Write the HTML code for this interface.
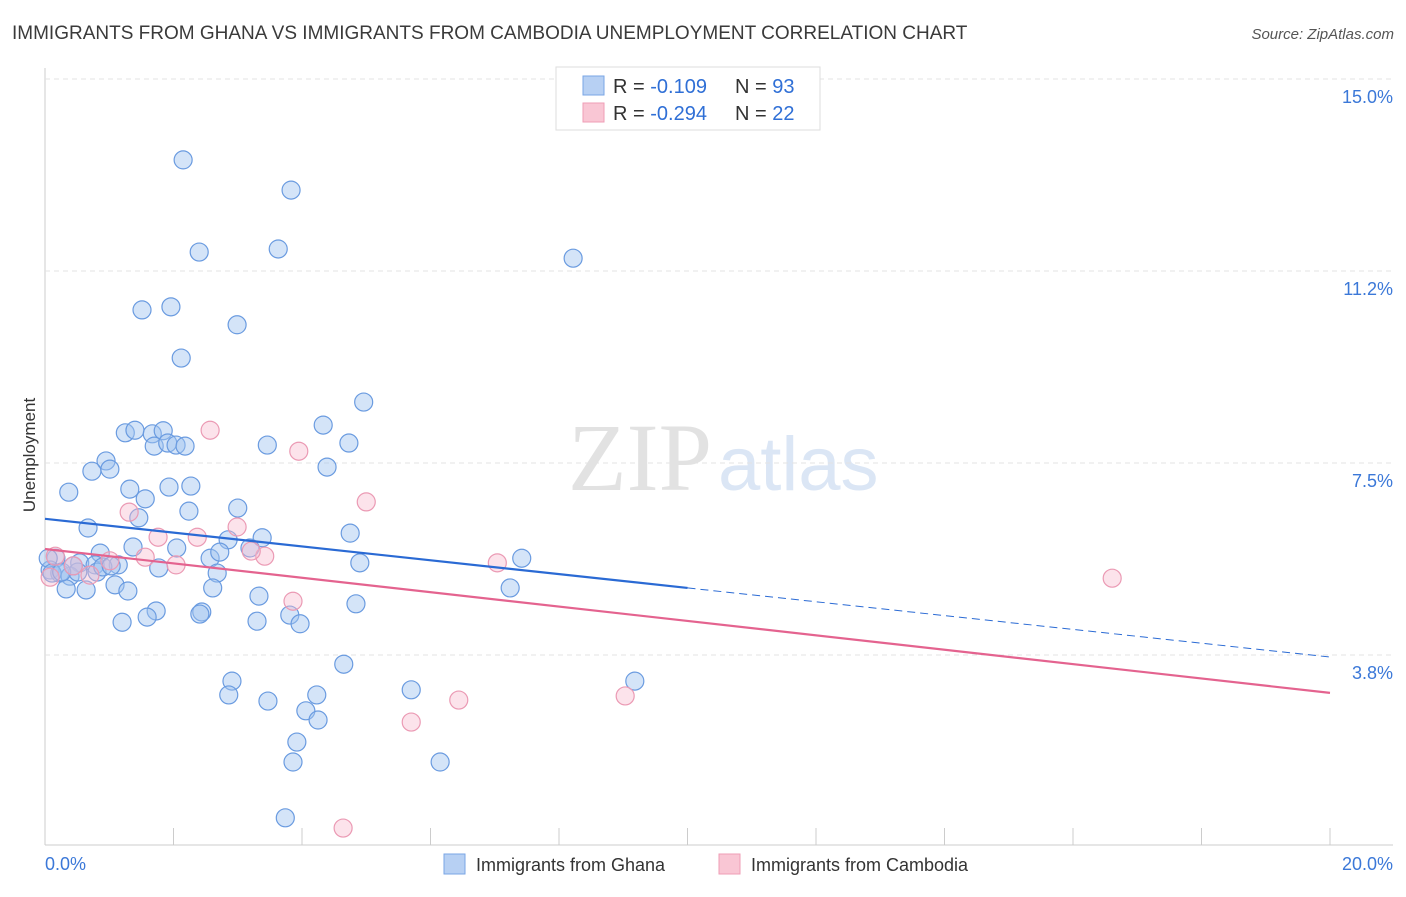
<!DOCTYPE html>
<html><head><meta charset="utf-8"><style>
body{margin:0;background:#fff;font-family:"Liberation Sans",sans-serif}
</style></head><body>
<svg width="1406" height="892" id="c" style="font-family:'Liberation Sans',sans-serif">
<text x="12" y="39" font-size="19" fill="#3a3a3a">IMMIGRANTS FROM GHANA VS IMMIGRANTS FROM CAMBODIA UNEMPLOYMENT CORRELATION CHART</text>
<text x="1394" y="39" font-size="15" fill="#555" text-anchor="end" font-style="italic">Source: ZipAtlas.com</text>
<text x="712" y="490" font-size="96" fill="#e2e2e2" text-anchor="end" font-family="'Liberation Serif',serif">ZIP</text>
<text x="718" y="490" font-size="76" fill="#dbe6f5">atlas</text>
<text x="35" y="455" font-size="17" fill="#333" text-anchor="middle" transform="rotate(-90 35 455)">Unemployment</text>
<g id="grid"></g><g id="pts"></g><g id="trend"></g>
<g>
<rect x="556" y="67" width="264" height="63" fill="#fff" stroke="#ddd"/>
<rect x="583" y="76" width="21" height="19" fill="#b7d0f3" stroke="#7aa6e6"/>
<rect x="583" y="103" width="21" height="19" fill="#f9c6d4" stroke="#ef9db6"/>
<text x="613" y="93" font-size="20" fill="#333">R = <tspan fill="#2f6fd6">-0.109</tspan><tspan x="735">N = </tspan><tspan fill="#2f6fd6">93</tspan></text>
<text x="613" y="120" font-size="20" fill="#333">R = <tspan fill="#2f6fd6">-0.294</tspan><tspan x="735">N = </tspan><tspan fill="#2f6fd6">22</tspan></text>
</g>
<g>
<rect x="444" y="854" width="21" height="20" fill="#b7d0f3" stroke="#7aa6e6"/>
<text x="476" y="871" font-size="18" fill="#333">Immigrants from Ghana</text>
<rect x="719" y="854" width="21" height="20" fill="#f9c6d4" stroke="#ef9db6"/>
<text x="751" y="871" font-size="18" fill="#333">Immigrants from Cambodia</text>
</g>
</svg>
<script>
const yTicks=[3.75,7.5,11.25,15];
const yTickLabels=["3.8%","7.5%","11.2%","15.0%"];
const xTicks=[0,2,4,6,8,10,12,14,16,18,20];
const ghanaX=[2.15,3.83,2.40,3.63,8.22,1.51,1.96,2.99,2.12,4.96,4.33,1.25,1.40,1.67,1.84,1.70,1.91,2.04,2.18,3.46,4.73,4.39,0.95,1.01,0.73,0.37,1.32,1.56,1.93,2.27,2.24,3.00,1.46,0.67,4.75,2.85,3.38,1.37,2.05,0.17,0.86,2.57,2.72,3.19,4.90,7.42,0.54,0.78,1.14,1.77,2.68,0.08,0.23,0.39,0.51,0.81,0.33,0.64,1.09,1.29,2.61,3.33,7.24,1.73,1.59,1.20,2.44,2.41,3.30,3.81,3.97,4.84,4.65,2.91,2.86,3.47,4.23,5.70,9.18,4.06,4.25,3.92,3.86,6.15,3.74,0.05,0.11,0.26,0.44,0.90,1.03];
const ghanaY=[13.42,12.83,11.62,11.68,11.50,10.49,10.55,10.20,9.55,8.69,8.24,8.09,8.14,8.07,8.13,7.83,7.89,7.85,7.83,7.85,7.89,7.42,7.54,7.38,7.34,6.93,6.99,6.80,7.03,7.05,6.56,6.62,6.43,6.23,6.13,6.00,6.04,5.86,5.84,5.64,5.74,5.64,5.76,5.84,5.55,5.64,5.55,5.51,5.51,5.45,5.35,5.41,5.35,5.29,5.37,5.37,5.04,5.02,5.12,5.00,5.06,4.90,5.06,4.61,4.49,4.39,4.59,4.55,4.41,4.53,4.36,4.75,3.57,3.24,2.97,2.85,2.97,3.07,3.24,2.66,2.48,2.05,1.66,1.66,0.57,5.64,5.35,5.37,5.49,5.47,5.49];
const cambX=[2.57,3.95,5.00,1.31,2.99,1.76,2.37,3.42,1.56,2.04,1.01,0.44,0.70,0.08,0.16,3.21,3.86,7.04,16.61,5.70,6.44,9.03,4.64];
const cambY=[8.14,7.73,6.74,6.54,6.25,6.05,6.05,5.68,5.66,5.51,5.59,5.49,5.31,5.27,5.68,5.78,4.80,5.55,5.25,2.44,2.87,2.95,0.37];
const ghanaTrend=[6.41,3.71];
const cambTrend=[5.82,3.01];
const ghanaSolidEnd=10;
const X=v=>45+v*64.25, Y=v=>847-v*51.2;
const NS="http://www.w3.org/2000/svg";
function mk(t,a,p){const e=document.createElementNS(NS,t);for(const k in a)e.setAttribute(k,a[k]);p.appendChild(e);return e;}
const g=document.getElementById('grid');
let e=mk('line',{x1:45,y1:68,x2:45,y2:845,stroke:'#ccc'},g);


e=mk('line',{x1:45,y1:845,x2:1393,y2:845,stroke:'#ccc'},g);


yTicks.forEach((t,i)=>{
 let l=mk('line',{x1:45,y1:Y(t),x2:1393,y2:Y(t),stroke:'#e3e3e3','stroke-dasharray':'5,4'},g);
 
 
 let tx=mk('text',{x:1393,y:Y(t)+24,'font-size':18,fill:'#3b78d8','text-anchor':'end'},g);tx.textContent=yTickLabels[i];
 
 
});
xTicks.forEach(t=>{
 let l=mk('line',{x1:X(t),y1:828,x2:X(t),y2:845,stroke:'#ccc'},g);
 
 
});
let t0=mk('text',{x:45,y:870,'font-size':18,fill:'#3b78d8'},g);t0.textContent='0.0%';


let t1=mk('text',{x:1393,y:870,'font-size':18,fill:'#3b78d8','text-anchor':'end'},g);t1.textContent='20.0%';


const p=document.getElementById('pts');
ghanaX.forEach((x,i)=>{
 let c=mk('circle',{cx:X(x),cy:Y(ghanaY[i]),r:9,fill:'rgba(160,195,240,0.45)',stroke:'#6a9be0','stroke-width':1.2},p);
 
 
});
cambX.forEach((x,i)=>{
 let c=mk('circle',{cx:X(x),cy:Y(cambY[i]),r:9,fill:'rgba(248,185,205,0.4)',stroke:'#eb9ab4','stroke-width':1.2},p);
 
 
});
const tr=document.getElementById('trend');
const gy=v=>ghanaTrend[0]+(ghanaTrend[1]-ghanaTrend[0])*v/20;
let a=mk('line',{x1:X(0),y1:Y(gy(0)),x2:X(ghanaSolidEnd),y2:Y(gy(ghanaSolidEnd)),stroke:'#2a6ad4','stroke-width':2.2},tr);


let b=mk('line',{x1:X(ghanaSolidEnd),y1:Y(gy(ghanaSolidEnd)),x2:X(20),y2:Y(gy(20)),stroke:'#2a6ad4','stroke-width':1,'stroke-dasharray':'8,5'},tr);


let d=mk('line',{x1:X(0),y1:Y(cambTrend[0]),x2:X(20),y2:Y(cambTrend[1]),stroke:'#e4638f','stroke-width':2.2},tr);


</script>
</body></html>
